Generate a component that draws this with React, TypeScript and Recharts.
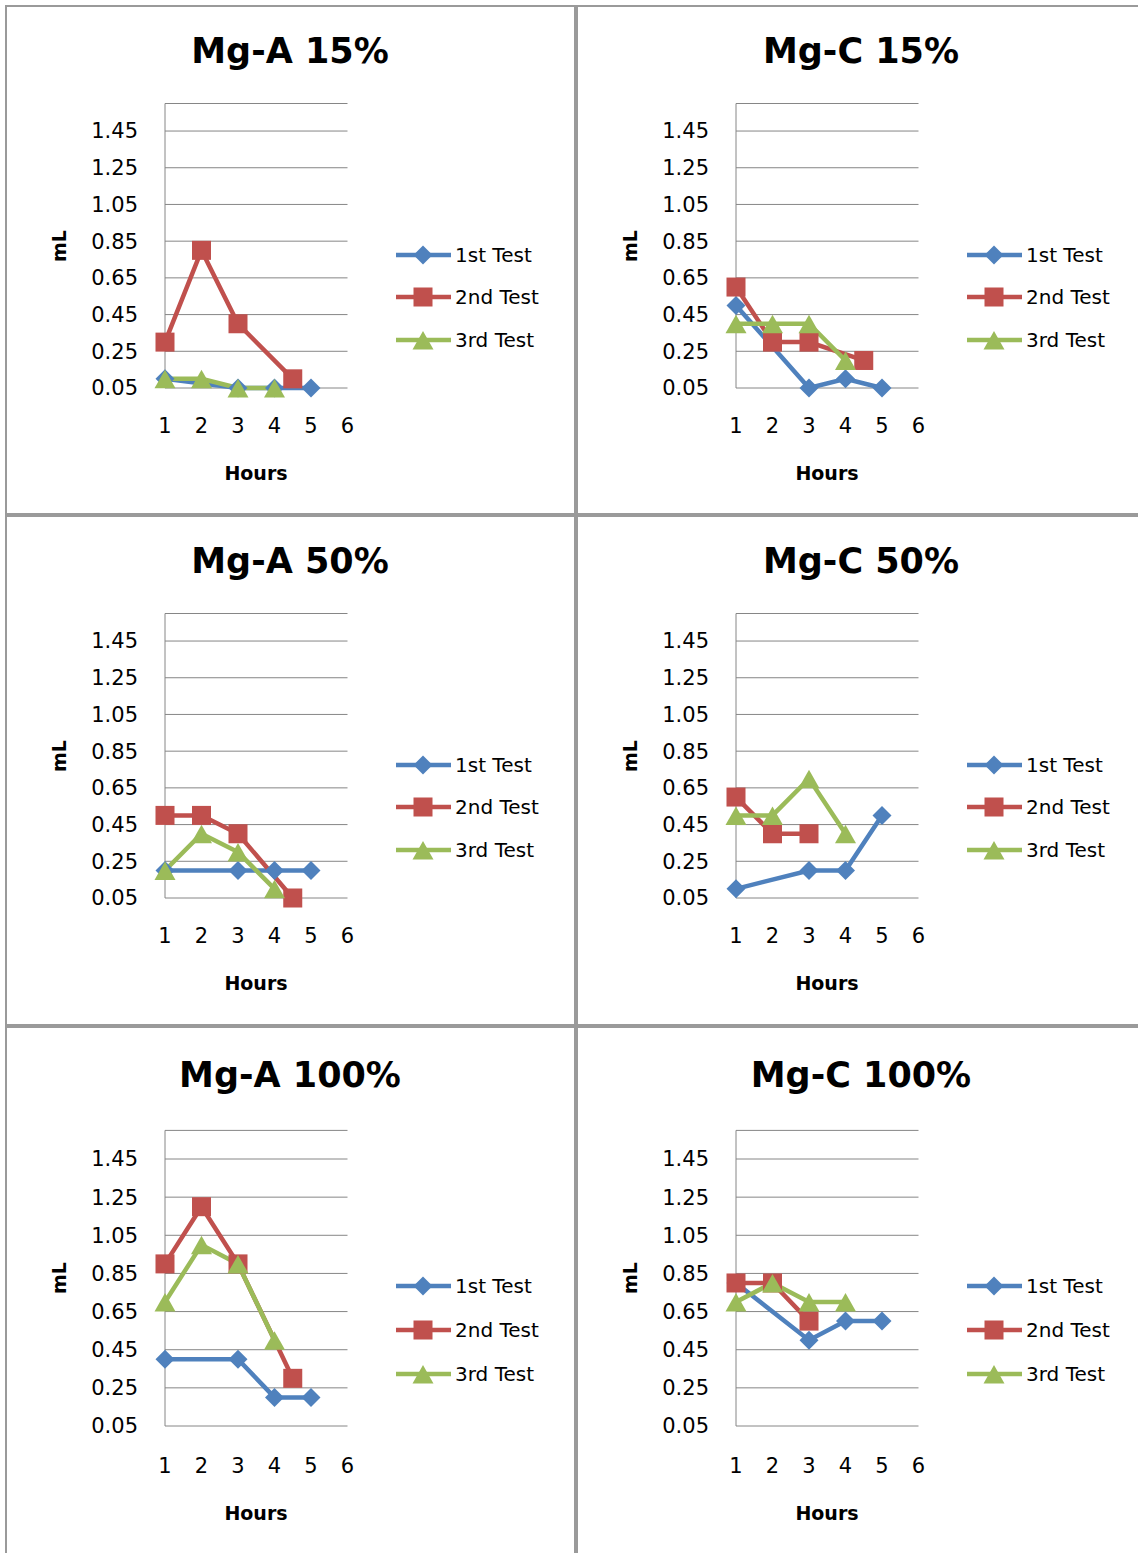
import React from 'react';
import { LineChart, Line, XAxis, YAxis, CartesianGrid } from 'recharts';

// hours at which each test was read
const HOURS_T1 = [1, 3, 4, 5];
const HOURS_T2 = [1, 2, 3, 4.5];
const HOURS_T3 = [1, 2, 3, 4];

const X_TICKS = [1, 2, 3, 4, 5, 6];
const Y_TICKS = [0.05, 0.25, 0.45, 0.65, 0.85, 1.05, 1.25, 1.45];

// mL values, one list per test and panel
const MGA15_T1 = [0.1, 0.05, 0.05, 0.05];
const MGA15_T2 = [0.3, 0.8, 0.4, 0.1];
const MGA15_T3 = [0.1, 0.1, 0.05, 0.05];

const MGC15_T1 = [0.5, 0.05, 0.1, 0.05];
const MGC15_T2 = [0.6, 0.3, 0.3, 0.2];
const MGC15_T3 = [0.4, 0.4, 0.4, 0.2];

const MGA50_T1 = [0.2, 0.2, 0.2, 0.2];
const MGA50_T2 = [0.5, 0.5, 0.4, 0.05];
const MGA50_T3 = [0.2, 0.4, 0.3, 0.1];

const MGC50_T1 = [0.1, 0.2, 0.2, 0.5];
const MGC50_T2 = [0.6, 0.4, 0.4];
const MGC50_T3 = [0.5, 0.5, 0.7, 0.4];

const MGA100_T1 = [0.4, 0.4, 0.2, 0.2];
const MGA100_T2 = [0.9, 1.2, 0.9, 0.3];
const MGA100_T3 = [0.7, 1.0, 0.9, 0.5];

const MGC100_T1 = [0.8, 0.5, 0.6, 0.6];
const MGC100_T2 = [0.8, 0.8, 0.6];
const MGC100_T3 = [0.7, 0.8, 0.7, 0.7];

const FONT = '"DejaVu Sans", sans-serif';
const GRID = '#868686';
const BLUE = '#4f81bd';
const RED = '#c0504d';
const GREEN = '#9bbb59';

type Shape = 'diamond' | 'square' | 'triangle';

const Marker = ({ cx, cy, shape, color }: { cx: number; cy: number; shape: Shape; color: string }) => {
  if (shape === 'square') {
    return <rect x={cx - 9.5} y={cy - 9.5} width={19} height={19} fill={color} />;
  }
  if (shape === 'triangle') {
    return <polygon points={`${cx},${cy - 9} ${cx + 10.5},${cy + 9.5} ${cx - 10.5},${cy + 9.5}`} fill={color} />;
  }
  return <polygon points={`${cx},${cy - 9.5} ${cx + 9.5},${cy} ${cx},${cy + 9.5} ${cx - 9.5},${cy}`} fill={color} />;
};

const SERIES = [
  { name: '1st Test', color: BLUE, shape: 'diamond' as Shape, hours: HOURS_T1 },
  { name: '2nd Test', color: RED, shape: 'square' as Shape, hours: HOURS_T2 },
  { name: '3rd Test', color: GREEN, shape: 'triangle' as Shape, hours: HOURS_T3 },
];

interface PanelProps {
  title: string;
  left: number;
  top: number;
  width: number;
  height: number;
  values: number[][];
  tall?: boolean;
}

const Panel = ({ title, left, top, width, height, values, tall }: PanelProps) => {
  const chartH = tall ? 530 : 500;
  const plotTop = tall ? 104.4 : 98.5;
  const plotBottom = tall ? 400 : 383;
  const titleTop = tall ? 32 : 28.5;
  const hoursTop = tall ? 478 : 459;
  const legendY = tall ? [260, 304, 348] : [250, 292, 335];

  return (
    <div
      style={{
        position: 'absolute',
        left,
        top,
        width,
        height,
        boxShadow: 'inset 0 0 0 2px #9a9a9a',
        fontFamily: FONT,
      }}
    >
      <div
        style={{
          position: 'absolute',
          left: 85,
          width: 400,
          top: titleTop,
          textAlign: 'center',
          fontSize: 35,
          fontWeight: 'bold',
          lineHeight: 1,
        }}
      >
        {title}
      </div>

      <LineChart
        width={560}
        height={chartH}
        margin={{ top: plotTop, right: 217.5, left: 80, bottom: chartH - plotBottom - 60 }}
        style={{ position: 'absolute', left: 0, top: 0 }}
      >
        <CartesianGrid vertical={false} stroke={GRID} strokeWidth={1} />
        <XAxis
          dataKey="x"
          type="number"
          domain={[1, 6]}
          ticks={X_TICKS}
          interval={0}
          height={60}
          axisLine={false}
          tickLine={false}
          tickSize={0}
          tickMargin={tall ? 32 : 30}
          tick={{ fontSize: 21, fill: '#000', fontFamily: FONT }}
        />
        <YAxis
          type="number"
          domain={[0.05, 1.6]}
          ticks={Y_TICKS}
          interval={0}
          width={80}
          axisLine={{ stroke: GRID, strokeWidth: 1 }}
          tickLine={false}
          tickSize={0}
          tickMargin={27}
          tickFormatter={(v: number) => v.toFixed(2)}
          tick={{ fontSize: 21, fill: '#000', fontFamily: FONT }}
        />
        {SERIES.map((s, si) => (
          <Line
            key={s.name}
            data={values[si].map((v, i) => ({ x: s.hours[i], y: v }))}
            dataKey="y"
            name={s.name}
            type="linear"
            stroke={s.color}
            strokeWidth={4.5}
            isAnimationActive={false}
            dot={(p: any) => (
              <Marker key={`${s.name}-${p.index}`} cx={p.cx} cy={p.cy} shape={s.shape} color={s.color} />
            )}
            activeDot={false}
          />
        ))}
      </LineChart>

      <div
        style={{
          position: 'absolute',
          left: 53.5,
          top: (plotTop + plotBottom) / 2,
          transform: 'translate(-50%, -50%) rotate(-90deg)',
          fontSize: 19,
          fontWeight: 'bold',
          lineHeight: 1,
        }}
      >
        mL
      </div>
      <div
        style={{
          position: 'absolute',
          left: 151,
          width: 200,
          top: hoursTop,
          textAlign: 'center',
          fontSize: 19,
          fontWeight: 'bold',
          lineHeight: 1,
        }}
      >
        Hours
      </div>

      {SERIES.map((s, i) => (
        <div
          key={s.name}
          style={{
            position: 'absolute',
            left: 391,
            top: legendY[i] - 12,
            height: 24,
            display: 'flex',
            alignItems: 'center',
            fontSize: 20,
            lineHeight: 1,
            whiteSpace: 'nowrap',
          }}
        >
          <svg width={55} height={24} style={{ display: 'block' }}>
            <line x1={0} y1={12} x2={55} y2={12} stroke={s.color} strokeWidth={4.5} />
            <Marker cx={27} cy={12} shape={s.shape} color={s.color} />
          </svg>
          <span style={{ marginLeft: 4 }}>{s.name}</span>
        </div>
      ))}
    </div>
  );
};

export default function App() {
  return (
    <div
      style={{
        position: 'relative',
        width: 1138,
        height: 1553,
        overflow: 'hidden',
        background: '#fff',
      }}
    >
      <style>{'body{margin:0}'}</style>
      <Panel title="Mg-A 15%" left={5} top={5} width={571} height={510} values={[MGA15_T1, MGA15_T2, MGA15_T3]} />
      <Panel title="Mg-C 15%" left={576} top={5} width={600} height={510} values={[MGC15_T1, MGC15_T2, MGC15_T3]} />
      <Panel title="Mg-A 50%" left={5} top={515} width={571} height={511} values={[MGA50_T1, MGA50_T2, MGA50_T3]} />
      <Panel title="Mg-C 50%" left={576} top={515} width={600} height={511} values={[MGC50_T1, MGC50_T2, MGC50_T3]} />
      <Panel title="Mg-A 100%" left={5} top={1026} width={571} height={600} values={[MGA100_T1, MGA100_T2, MGA100_T3]} tall />
      <Panel title="Mg-C 100%" left={576} top={1026} width={600} height={600} values={[MGC100_T1, MGC100_T2, MGC100_T3]} tall />
    </div>
  );
}
